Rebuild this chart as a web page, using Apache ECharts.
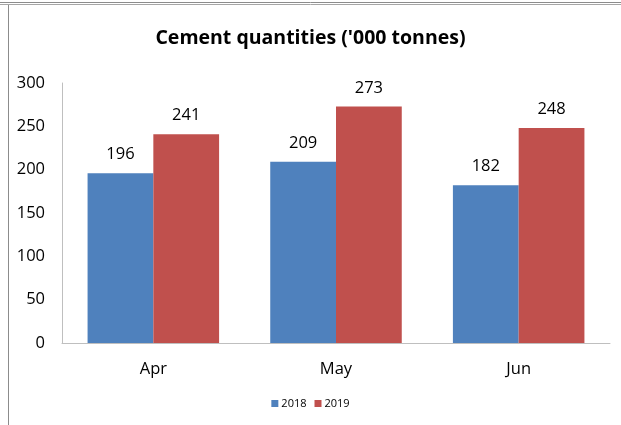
<!DOCTYPE html>
<html><head><meta charset="utf-8">
<script src="https://cdn.jsdelivr.net/npm/echarts@6/dist/echarts.min.js"></script>
<style>html,body{margin:0;padding:0;background:#fff}#c{width:621px;height:425px}</style>
</head><body><div id="c"></div>
<script>
const categories = ['Apr', 'May', 'Jun'];
const seriesNames = ['2018', '2019'];
const values2018 = [196, 209, 182];
const values2019 = [241, 273, 248];
const yTicks = [0, 50, 100, 150, 200, 250, 300];

const font = '"Open Sans", "Noto Sans", sans-serif';
const chart = echarts.init(document.getElementById('c'), null, {renderer: 'canvas'});
chart.setOption({
  animation: false,
  backgroundColor: '#fff',
  title: {
    text: "Cement quantities ('000 tonnes)",
    left: 'center', top: 23,
    textStyle: {fontFamily: font, fontSize: 19.5, fontWeight: 'bold', color: '#000'}
  },
  legend: {
    data: seriesNames, bottom: 11, left: 'center',
    itemWidth: 7, itemHeight: 7, itemGap: 8,
    icon: 'rect',
    textStyle: {fontFamily: font, fontSize: 11, color: '#000', padding: [0,0,0,-2]}
  },
  grid: {left: 62, right: 11, top: 83, bottom: 82, containLabel: false},
  xAxis: {
    type: 'category', data: categories,
    axisLine: {lineStyle: {color: '#BFBFBF', width: 1}},
    axisTick: {show: false},
    axisLabel: {fontFamily: font, fontSize: 16.5, color: '#000', margin: 18}
  },
  yAxis: {
    type: 'value', min: yTicks[0], max: yTicks[yTicks.length-1], interval: 50,
    axisLine: {show: true, lineStyle: {color: '#BFBFBF', width: 1}},
    axisTick: {show: false},
    splitLine: {show: false},
    axisLabel: {fontFamily: font, fontSize: 16.5, color: '#000', margin: 17}
  },
  series: [
    {name: seriesNames[0], type: 'bar', data: values2018, barGap: '0%', barCategoryGap: '28%',
     itemStyle: {color: '#4F81BD'},
     label: {show: true, position: 'top', distance: 10, fontFamily: font, fontSize: 16.5, color: '#000'}},
    {name: seriesNames[1], type: 'bar', data: values2019,
     itemStyle: {color: '#C0504D'},
     label: {show: true, position: 'top', distance: 10, fontFamily: font, fontSize: 16.5, color: '#000'}}
  ],
  graphic: [
    {type: 'line', shape: {x1: 0, y1: 2.5, x2: 621, y2: 2.5}, style: {stroke: '#8C8C8C', lineWidth: 1}},
    {type: 'line', shape: {x1: 0, y1: 4.5, x2: 621, y2: 4.5}, style: {stroke: '#A6A6A6', lineWidth: 1}},
    {type: 'line', shape: {x1: 8.5, y1: 5, x2: 8.5, y2: 425}, style: {stroke: '#8C8C8C', lineWidth: 1}}
  ]
});
</script></body></html>
